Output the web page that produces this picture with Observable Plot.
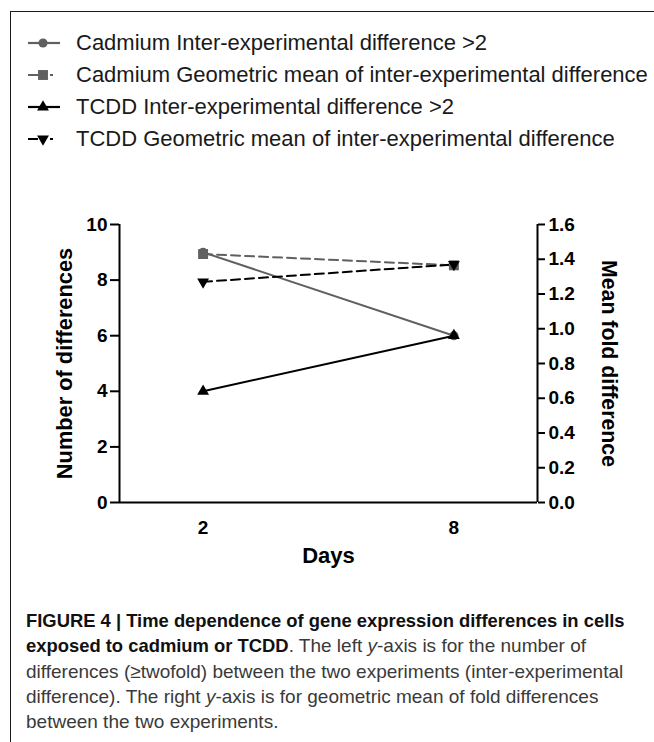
<!DOCTYPE html>
<html><head><meta charset="utf-8">
<script src="https://cdn.jsdelivr.net/npm/d3@7"></script>
<script src="https://cdn.jsdelivr.net/npm/@observablehq/plot@0.6"></script>
<style>
html,body{margin:0;padding:0;background:#fff;}
body{width:654px;height:742px;position:relative;overflow:hidden;font-family:"Liberation Sans",Arial,sans-serif;}
#frame{position:absolute;left:10px;top:11px;width:700px;height:800px;border-left:1.5px solid #1a1a1a;border-top:1.5px solid #1a1a1a;}
#legend{position:absolute;left:28px;top:27px;}
.row{height:32px;display:flex;align-items:center;font-size:22px;color:#1a1a1a;white-space:nowrap;}
.row svg{margin-right:16px;flex:none;}
#chart{position:absolute;left:0;top:190px;}
#caption{position:absolute;left:26px;top:608px;font-size:19px;line-height:25.3px;color:#3a3a3a;white-space:nowrap;font-family:"Liberation Sans",Arial,sans-serif;}
#caption b{color:#111;font-size:18.4px;}
</style></head>
<body>
<div id="frame"></div>
<div id="legend"></div>
<div id="chart"></div>
<div id="caption">
<div><b>FIGURE 4 | Time dependence of gene expression differences in cells</b></div>
<div><b>exposed to cadmium or TCDD</b>. The left <i>y</i>-axis is for the number of</div>
<div>differences (≥twofold) between the two experiments (inter-experimental</div>
<div>difference). The right <i>y</i>-axis is for geometric mean of fold differences</div>
<div>between the two experiments.</div>
</div>
<script>
// ---- data ----
const days = [2, 8];
const seriesNames = [
  "Cadmium Inter-experimental difference >2",
  "Cadmium Geometric mean of inter-experimental difference",
  "TCDD Inter-experimental difference >2",
  "TCDD Geometric mean of inter-experimental difference"
];
const cdInter = [9, 6];          // left axis (number of differences)
const cdGeoMean = [1.43, 1.365]; // right axis (mean fold difference)
const tcddInter = [4, 6];        // left axis
const tcddGeoMean = [1.27, 1.37];// right axis
const leftTicks = [0, 2, 4, 6, 8, 10];
const rightTicks = [0, 0.2, 0.4, 0.6, 0.8, 1.0, 1.2, 1.4, 1.6];
const xLabel = "Days";
const yLeftLabel = "Number of differences";
const yRightLabel = "Mean fold difference";

// ---- styling ----
const GRAY = "#606060", BLACK = "#000";
const K = 10 / 1.6; // right-axis units -> left-axis units

const triangleDown = {
  draw(context, size) {
    const y = -Math.sqrt(size / (Math.sqrt(3) * 3));
    context.moveTo(0, -y * 2);
    context.lineTo(-Math.sqrt(3) * y, y);
    context.lineTo(Math.sqrt(3) * y, y);
    context.closePath();
  }
};

const series = [
  {name: seriesNames[0], values: cdInter, scale: 1, color: GRAY, dash: null, symbol: "circle", r: 4.6},
  {name: seriesNames[1], values: cdGeoMean, scale: K, color: GRAY, dash: "9,5", symbol: "square", r: 5.6},
  {name: seriesNames[2], values: tcddInter, scale: 1, color: BLACK, dash: null, symbol: "triangle", r: 4.4},
  {name: seriesNames[3], values: tcddGeoMean, scale: K, color: BLACK, dash: "9,5", symbol: triangleDown, r: 4.4}
];

// ---- legend ----
const legend = document.getElementById("legend");
const d3sym = {circle: d3.symbolCircle, square: d3.symbolSquare, triangle: d3.symbolTriangle};
series.forEach(s => {
  const row = document.createElement("div");
  row.className = "row";
  const svg = d3.create("svg").attr("width", 32).attr("height", 20);
  svg.append("line").attr("x1", 0).attr("x2", s.dash ? 26 : 32).attr("y1", 10).attr("y2", 10)
    .attr("stroke", s.color).attr("stroke-width", 2.2)
    .attr("stroke-dasharray", s.dash ? "10,12,3,10" : null);
  const symType = typeof s.symbol === "string" ? d3sym[s.symbol] : s.symbol;
  svg.append("path").attr("transform", "translate(15,10)")
    .attr("d", d3.symbol(symType, Math.PI * s.r * s.r)()).attr("fill", s.color);
  row.appendChild(svg.node());
  const span = document.createElement("span");
  span.textContent = s.name;
  row.appendChild(span);
  legend.appendChild(row);
});

// ---- chart ----
const rows = series.flatMap(s => days.map((d, j) => ({series: s.name, day: d, y: s.values[j] * s.scale})));

const marks = [];
series.forEach(s => {
  const data = rows.filter(r => r.series === s.name);
  marks.push(Plot.line(data, {x: "day", y: "y", stroke: s.color, strokeWidth: 2, strokeDasharray: s.dash}));
});
series.forEach(s => {
  const data = rows.filter(r => r.series === s.name);
  marks.push(Plot.dot(data, {x: "day", y: "y", symbol: s.symbol, r: s.r, fill: s.color, stroke: "none"}));
});

const plot = Plot.plot({
  width: 654,
  height: 390,
  marginTop: 34,
  marginBottom: 78,
  marginLeft: 119,
  marginRight: 117,
  style: {fontFamily: "'Liberation Sans', Arial, sans-serif", fontSize: "19px", fontWeight: "bold", color: "#000", background: "transparent"},
  x: {domain: [0, 10]},
  y: {domain: [0, 10]},
  marks: [
    Plot.ruleX([0, 10], {strokeWidth: 2, stroke: "#000"}),
    Plot.ruleY([0], {strokeWidth: 2, stroke: "#000"}),
    Plot.axisY(leftTicks, {anchor: "left", tickSize: 9, tickPadding: 3, strokeWidth: 2, label: null}),
    Plot.axisY(rightTicks.map(v => v * K), {anchor: "right", tickSize: 7, tickPadding: 4, strokeWidth: 2, label: null, tickFormat: d => (d / K).toFixed(1)}),
    Plot.axisX(days, {anchor: "bottom", tickSize: 0, tickPadding: 18, label: null}),
    Plot.text([xLabel], {text: d => d, frameAnchor: "bottom", dy: 53, lineAnchor: "middle", textAnchor: "middle", fontSize: 22, fontWeight: "bold"}),
    Plot.text([yLeftLabel], {text: d => d, frameAnchor: "left", dx: -54, rotate: -90, textAnchor: "middle", lineAnchor: "middle", fontSize: 21.8, fontWeight: "bold"}),
    Plot.text([yRightLabel], {text: d => d, frameAnchor: "right", dx: 71, rotate: 90, textAnchor: "middle", lineAnchor: "middle", fontSize: 21.3, fontWeight: "bold"}),
    ...marks
  ]
});
document.getElementById("chart").appendChild(plot);
</script>
</body></html>
